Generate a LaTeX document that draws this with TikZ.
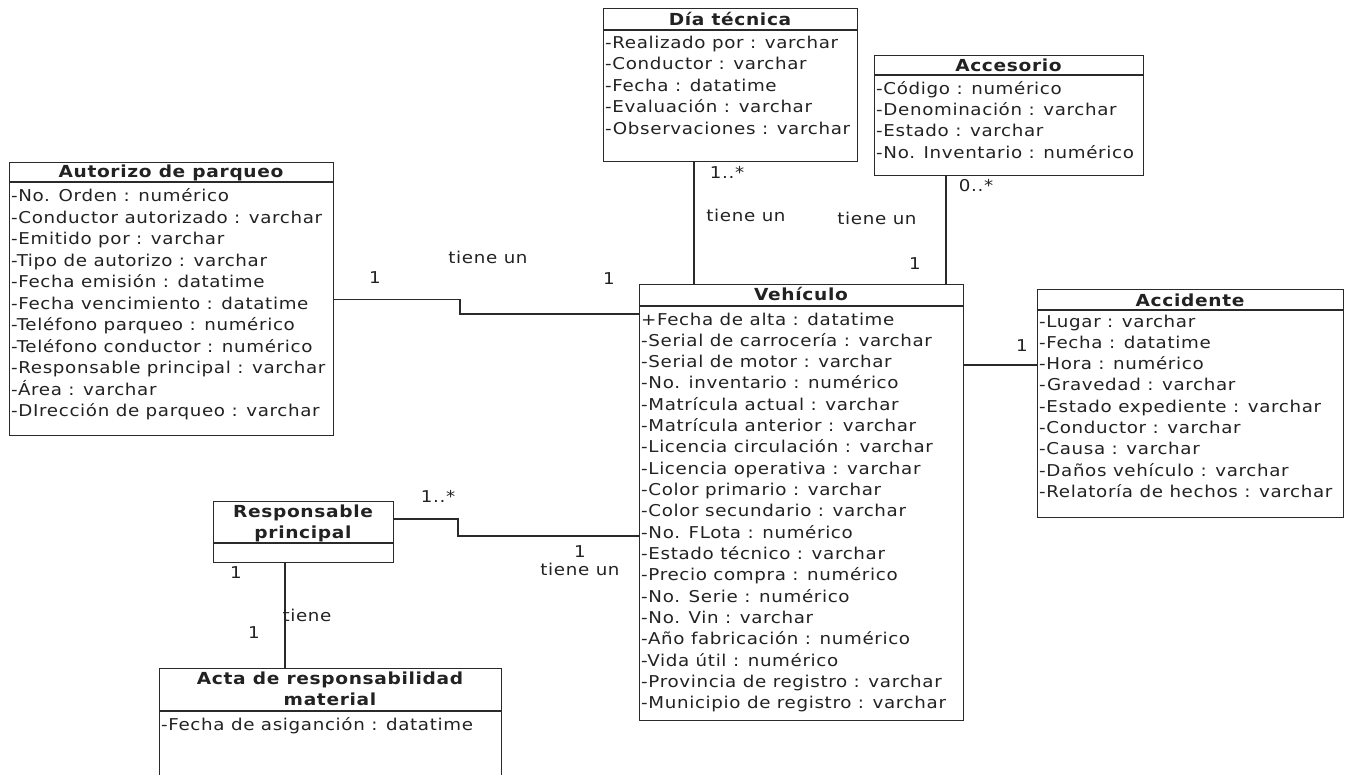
\documentclass[tikz,border=0pt]{standalone}
\usepackage{fontspec}
\setmainfont{DejaVu Sans}[FakeStretch=1.12,LetterSpace=4]
\definecolor{ink}{HTML}{222222}
\definecolor{edge}{HTML}{2A2A2A}
\tikzset{
  every node/.style={font=\fontsize{16.3}{21.5}\selectfont, text=ink},
  clsbox/.style={draw=edge, line width=1.4pt, rectangle, inner sep=0pt, anchor=north west},
  clsline/.style={draw=edge, line width=1.4pt},
  ttl/.style={anchor=base, inner sep=0pt, font=\fontsize{16.6}{21.5}\selectfont\bfseries},
  attr/.style={anchor=base west, inner sep=0pt},
  assoc/.style={draw=edge, line width=1.4pt},
  mult/.style={inner sep=0pt, anchor=center}
}
% one class box: name, x, y, width, height, header height
\newcommand\umlclass[6]{%
  \node[clsbox, minimum width=#4pt, minimum height=#5pt] (#1) at (#2,#3) {};
  \draw[clsline] ([yshift=-#6pt]#1.north west) -- ([yshift=-#6pt]#1.north east);
}
\begin{document}
\begin{tikzpicture}[x=1pt, y=-1pt]
\useasboundingbox (0,0) rectangle (1349,774);
\clip (0,0) rectangle (1349,774);
\fill[white] (0,0) rectangle (1349,774);

% ---- Dia tecnica
\umlclass{dia}{603}{8}{254}{153}{22}
\node[ttl] (dia-t) at (730,25) {Día técnica};
\foreach \s [count=\i from 0] in {-Realizado por : varchar,-Conductor : varchar,-Fecha : datatime,-Evaluación : varchar,-Observaciones : varchar}
  \node[attr] (dia-a\i) at (605,48+21.6*\i) {\s};

% ---- Accesorio
\umlclass{acc}{874}{55}{269}{120}{20}
\node[ttl] (acc-t) at (1008.5,71) {Accesorio};
\foreach \s [count=\i from 0] in {-Código : numérico,-Denominación : varchar,-Estado : varchar,-No. Inventario : numérico}
  \node[attr] (acc-a\i) at (876,94+21.4*\i) {\s};

% ---- Autorizo de parqueo
\umlclass{aut}{9}{162}{324}{273}{20}
\node[ttl] (aut-t) at (171,177) {Autorizo de parqueo};
\foreach \s [count=\i from 0] in {-No. Orden : numérico,-Conductor autorizado : varchar,-Emitido por : varchar,-Tipo de autorizo : varchar,-Fecha emisión : datatime,-Fecha vencimiento : datatime,-Teléfono parqueo : numérico,-Teléfono conductor : numérico,-Responsable principal : varchar,-Área : varchar,-DIrección de parqueo : varchar}
  \node[attr] (aut-a\i) at (11,201.7+21.5*\i) {\s};

% ---- Vehiculo
\umlclass{veh}{639}{284}{324}{436}{22}
\node[ttl] (veh-t) at (801,300) {Vehículo};
\foreach \s [count=\i from 0] in {+Fecha de alta : datatime,-Serial de carrocería : varchar,-Serial de motor : varchar,-No. inventario : numérico,-Matrícula actual : varchar,-Matrícula anterior : varchar,-Licencia circulación : varchar,-Licencia operativa : varchar,-Color primario : varchar,-Color secundario : varchar,-No. FLota : numérico,-Estado técnico : varchar,-Precio compra : numérico,-No. Serie : numérico,-No. Vin : varchar,-Año fabricación : numérico,-Vida útil : numérico,-Provincia de registro : varchar,-Municipio de registro : varchar}
  \node[attr] (veh-a\i) at (641,325+21.33*\i) {\s};

% ---- Accidente
\umlclass{acd}{1037}{289}{306}{228}{21}
\node[ttl] (acd-t) at (1190,306) {Accidente};
\foreach \s [count=\i from 0] in {-Lugar : varchar,-Fecha : datatime,-Hora : numérico,-Gravedad : varchar,-Estado expediente : varchar,-Conductor : varchar,-Causa : varchar,-Daños vehículo : varchar,-Relatoría de hechos : varchar}
  \node[attr] (acd-a\i) at (1039,327+21.3*\i) {\s};

% ---- Responsable principal
\umlclass{resp}{213}{501}{180}{61}{42}
\node[ttl] (resp-t1) at (303,517) {Responsable};
\node[ttl] (resp-t2) at (303,538) {principal};

% ---- Acta de responsabilidad material
\umlclass{acta}{159}{668}{342}{130}{43}
\node[ttl] (acta-t1) at (330,684) {Acta de responsabilidad};
\node[ttl] (acta-t2) at (330,705.7) {material};
\node[attr] (acta-a0) at (161,730) {-Fecha de asiganción : datatime};

% ---- associations
\coordinate (k2) at (460,314);
\coordinate (k1) at (aut.east -| k2);
\draw[assoc] (aut.east) -- (k1) -- (k2) -- (veh.west |- k2);

\coordinate (kd) at (694,0);
\draw[assoc] (dia.south -| kd) -- (veh.north -| kd);

\coordinate (ka) at (946,0);
\draw[assoc] (acc.south -| ka) -- (veh.north -| ka);

\coordinate (kc) at (0,365);
\draw[assoc] (veh.east |- kc) -- (acd.west |- kc);

\coordinate (kr1) at (458,519);
\coordinate (kr2) at (458,536);
\draw[assoc] (resp.east |- kr1) -- (kr1) -- (kr2) -- (veh.west |- kr2);

\coordinate (kt) at (285,0);
\draw[assoc] (resp.south -| kt) -- (acta.north -| kt);

% ---- multiplicities and role names
\node[mult] (m-aut1) at (375,278) {1};
\node[mult] (r-aut) at (488,257) {tiene un};
\node[mult] (m-aut2) at (609,279) {1};

\node[mult] (m-dia1) at (727,172) {1..*};
\node[mult] (r-dia) at (746,215) {tiene un};

\node[mult] (m-acc1) at (976,186) {0..*};
\node[mult] (r-acc) at (877,218) {tiene un};
\node[mult] (m-acc2) at (915,264) {1};

\node[mult] (m-acd) at (1022,346) {1};

\node[mult] (m-resp1) at (438,496) {1..*};
\node[mult] (m-resp2) at (580,552) {1};
\node[mult] (r-resp) at (580,569) {tiene un};

\node[mult] (m-acta1) at (236,573) {1};
\node[mult] (r-acta) at (307,615) {tiene};
\node[mult] (m-acta2) at (254,633) {1};
\end{tikzpicture}
\end{document}
